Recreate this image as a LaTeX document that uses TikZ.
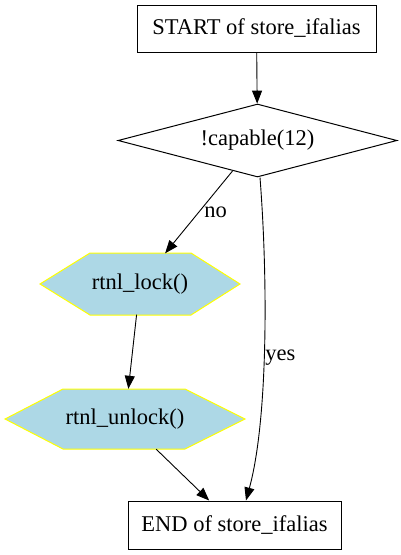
\documentclass[tikz,border=0pt]{standalone}
\usepackage{fontspec}
\setmainfont{Liberation Serif}
\usetikzlibrary{shapes.geometric,arrows.meta,calc}
\definecolor{hexblue}{HTML}{ADD8E6}
\definecolor{hexline}{HTML}{FFFF00}
\begin{document}
\begin{tikzpicture}[x=1pt,y=-1pt,
  font=\fontsize{22.5}{26}\selectfont,
  box/.style={draw, line width=1pt, inner sep=0pt},
  hexbox/.style={inner sep=0pt, minimum width=200pt, minimum height=61pt},
  hexfill/.style={fill=hexblue, draw=hexline, line width=1pt},
  arr/.style={-{Triangle[length=13pt,width=10pt]}, line width=0.9pt},
  lbl/.style={inner sep=1pt}]
\useasboundingbox (0,0) rectangle (401,555);
% hexagon shapes
\path[hexfill] (40,284) -- (90,253) -- (191,253) -- (240,284) -- (191,315) -- (90,315) -- cycle;
\path[hexfill] (5,419) -- (63,389) -- (185,389) -- (245,419) -- (185,449) -- (63,449) -- cycle;
% nodes
\node[box, minimum width=239pt, minimum height=47pt] (start) at (256.5,28.5) {START of store\_ifalias};
\node[diamond, draw, line width=1pt, aspect=3.8, inner sep=0pt, minimum width=279pt, minimum height=73pt] (cond) at (257.5,140.5) {!capable(12)};
\node[hexbox] (lock) at (140,284) {rtnl\_lock()};
\node[hexbox, minimum width=240pt, minimum height=60pt] (unlock) at (125,419) {rtnl\_unlock()};
\node[box, minimum width=213pt, minimum height=48pt] (end) at (234.5,525) {END of store\_ifalias};
% edges
\draw[arr] (start) -- (cond);
\draw[arr] (cond) -- node[lbl, pos=0.5, right=4pt] {no} (lock);
\draw[arr] ($(cond.south)+(2.5,0)$) .. controls (268,280) and (268,420) .. node[lbl, pos=0.53, right=0pt] {yes} ($(end.north)+(11.5,0)$);
\draw[arr] (lock) -- (unlock);
\draw[arr] (unlock) -- (end);
\end{tikzpicture}
\end{document}
